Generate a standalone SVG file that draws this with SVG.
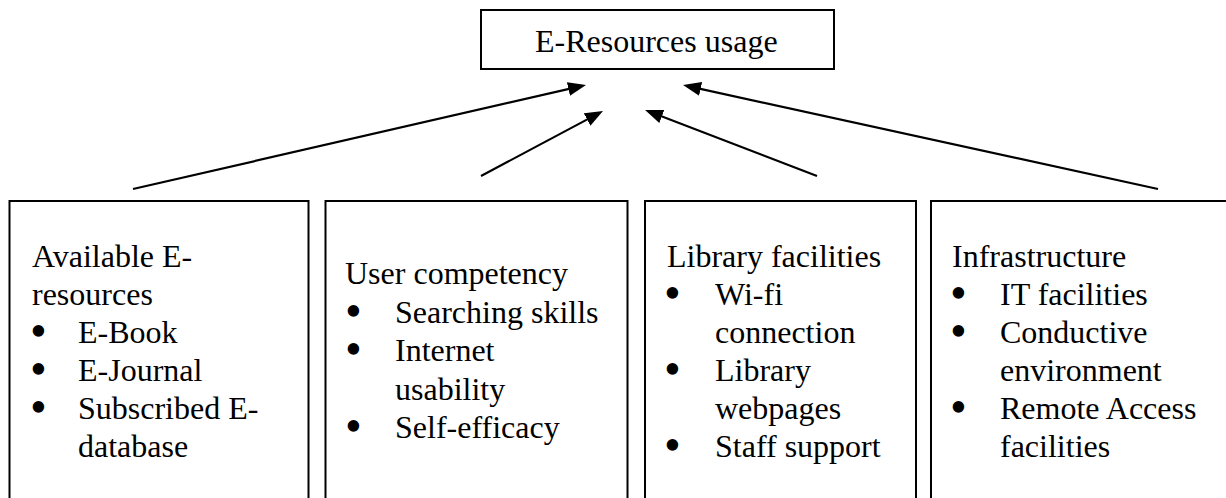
<svg xmlns="http://www.w3.org/2000/svg" width="1226" height="498" viewBox="0 0 1226 498">
  <style>
    .box { fill: #ffffff; stroke: #000000; stroke-width: 2; }
    .txt { font-family: 'Liberation Serif', 'Times New Roman', 'DejaVu Serif', serif; font-size: 32px; fill: #000000; }
    .bul { font-family: 'Liberation Serif', 'Times New Roman', 'DejaVu Serif', serif; font-size: 48px; fill: #000000; }
    .link { stroke: #000000; stroke-width: 2.2; fill: none; marker-end: url(#head); }
  </style>
  <defs>
    <marker id="head" markerUnits="userSpaceOnUse" markerWidth="18" markerHeight="14" refX="13" refY="7" orient="auto">
      <path d="M0,0 L18,7 L0,14 z" fill="#000000"/>
    </marker>
  </defs>

  <rect width="1226" height="498" fill="#ffffff"/>

  <!-- central outcome -->
  <g id="usage">
    <rect class="box" x="481" y="10" width="353" height="59"/>
    <text class="txt" x="535" y="51.5">E-Resources usage</text>
  </g>

  <!-- influencing factors; bullets are drawn one size up and nudged down -->
  <g id="available">
    <rect class="box" x="9.5" y="201" width="299" height="320"/>
    <text class="txt" x="32" y="266.5">Available E-</text>
    <text class="txt" x="32" y="304.5">resources</text>
    <text class="bul" x="30" y="346.5">•</text>
    <text class="txt" x="78" y="342.5">E-Book</text>
    <text class="bul" x="30" y="384.5">•</text>
    <text class="txt" x="78" y="380.5">E-Journal</text>
    <text class="bul" x="30" y="422.5">•</text>
    <text class="txt" x="78" y="418.5">Subscribed E-</text>
    <text class="txt" x="78" y="456.5">database</text>
  </g>

  <g id="competency">
    <rect class="box" x="325.5" y="201" width="302" height="320"/>
    <text class="txt" x="345" y="284">User competency</text>
    <text class="bul" x="345" y="326.5">•</text>
    <text class="txt" x="395" y="322.5">Searching skills</text>
    <text class="bul" x="345" y="365">•</text>
    <text class="txt" x="395" y="361">Internet</text>
    <text class="txt" x="395" y="399.5">usability</text>
    <text class="bul" x="345" y="442">•</text>
    <text class="txt" x="395" y="438">Self-efficacy</text>
  </g>

  <g id="facilities">
    <rect class="box" x="645" y="201" width="271" height="320"/>
    <text class="txt" x="667" y="266.5">Library facilities</text>
    <text class="bul" x="664" y="308.5">•</text>
    <text class="txt" x="715" y="304.5">Wi-fi</text>
    <text class="txt" x="715" y="342.5">connection</text>
    <text class="bul" x="664" y="384.5">•</text>
    <text class="txt" x="715" y="380.5">Library</text>
    <text class="txt" x="715" y="418.5">webpages</text>
    <text class="bul" x="664" y="460.5">•</text>
    <text class="txt" x="715" y="456.5">Staff support</text>
  </g>

  <g id="infrastructure">
    <rect class="box" x="931" y="201" width="320" height="320"/>
    <text class="txt" x="952" y="266.5">Infrastructure</text>
    <text class="bul" x="950" y="308.5">•</text>
    <text class="txt" x="1000" y="304.5">IT facilities</text>
    <text class="bul" x="950" y="346.5">•</text>
    <text class="txt" x="1000" y="342.5">Conductive</text>
    <text class="txt" x="1000" y="380.5">environment</text>
    <text class="bul" x="950" y="422.5">•</text>
    <text class="txt" x="1000" y="418.5">Remote Access</text>
    <text class="txt" x="1000" y="456.5">facilities</text>
  </g>

  <!-- arrows into the usage box -->
  <g id="connectors">
    <line class="link" x1="133" y1="189" x2="581.1" y2="86.1"/>
    <line class="link" x1="481" y1="176" x2="598.6" y2="113.4"/>
    <line class="link" x1="817" y1="176" x2="649.7" y2="111.8"/>
    <line class="link" x1="1158" y1="189" x2="687.9" y2="86.1"/>
  </g>
</svg>
